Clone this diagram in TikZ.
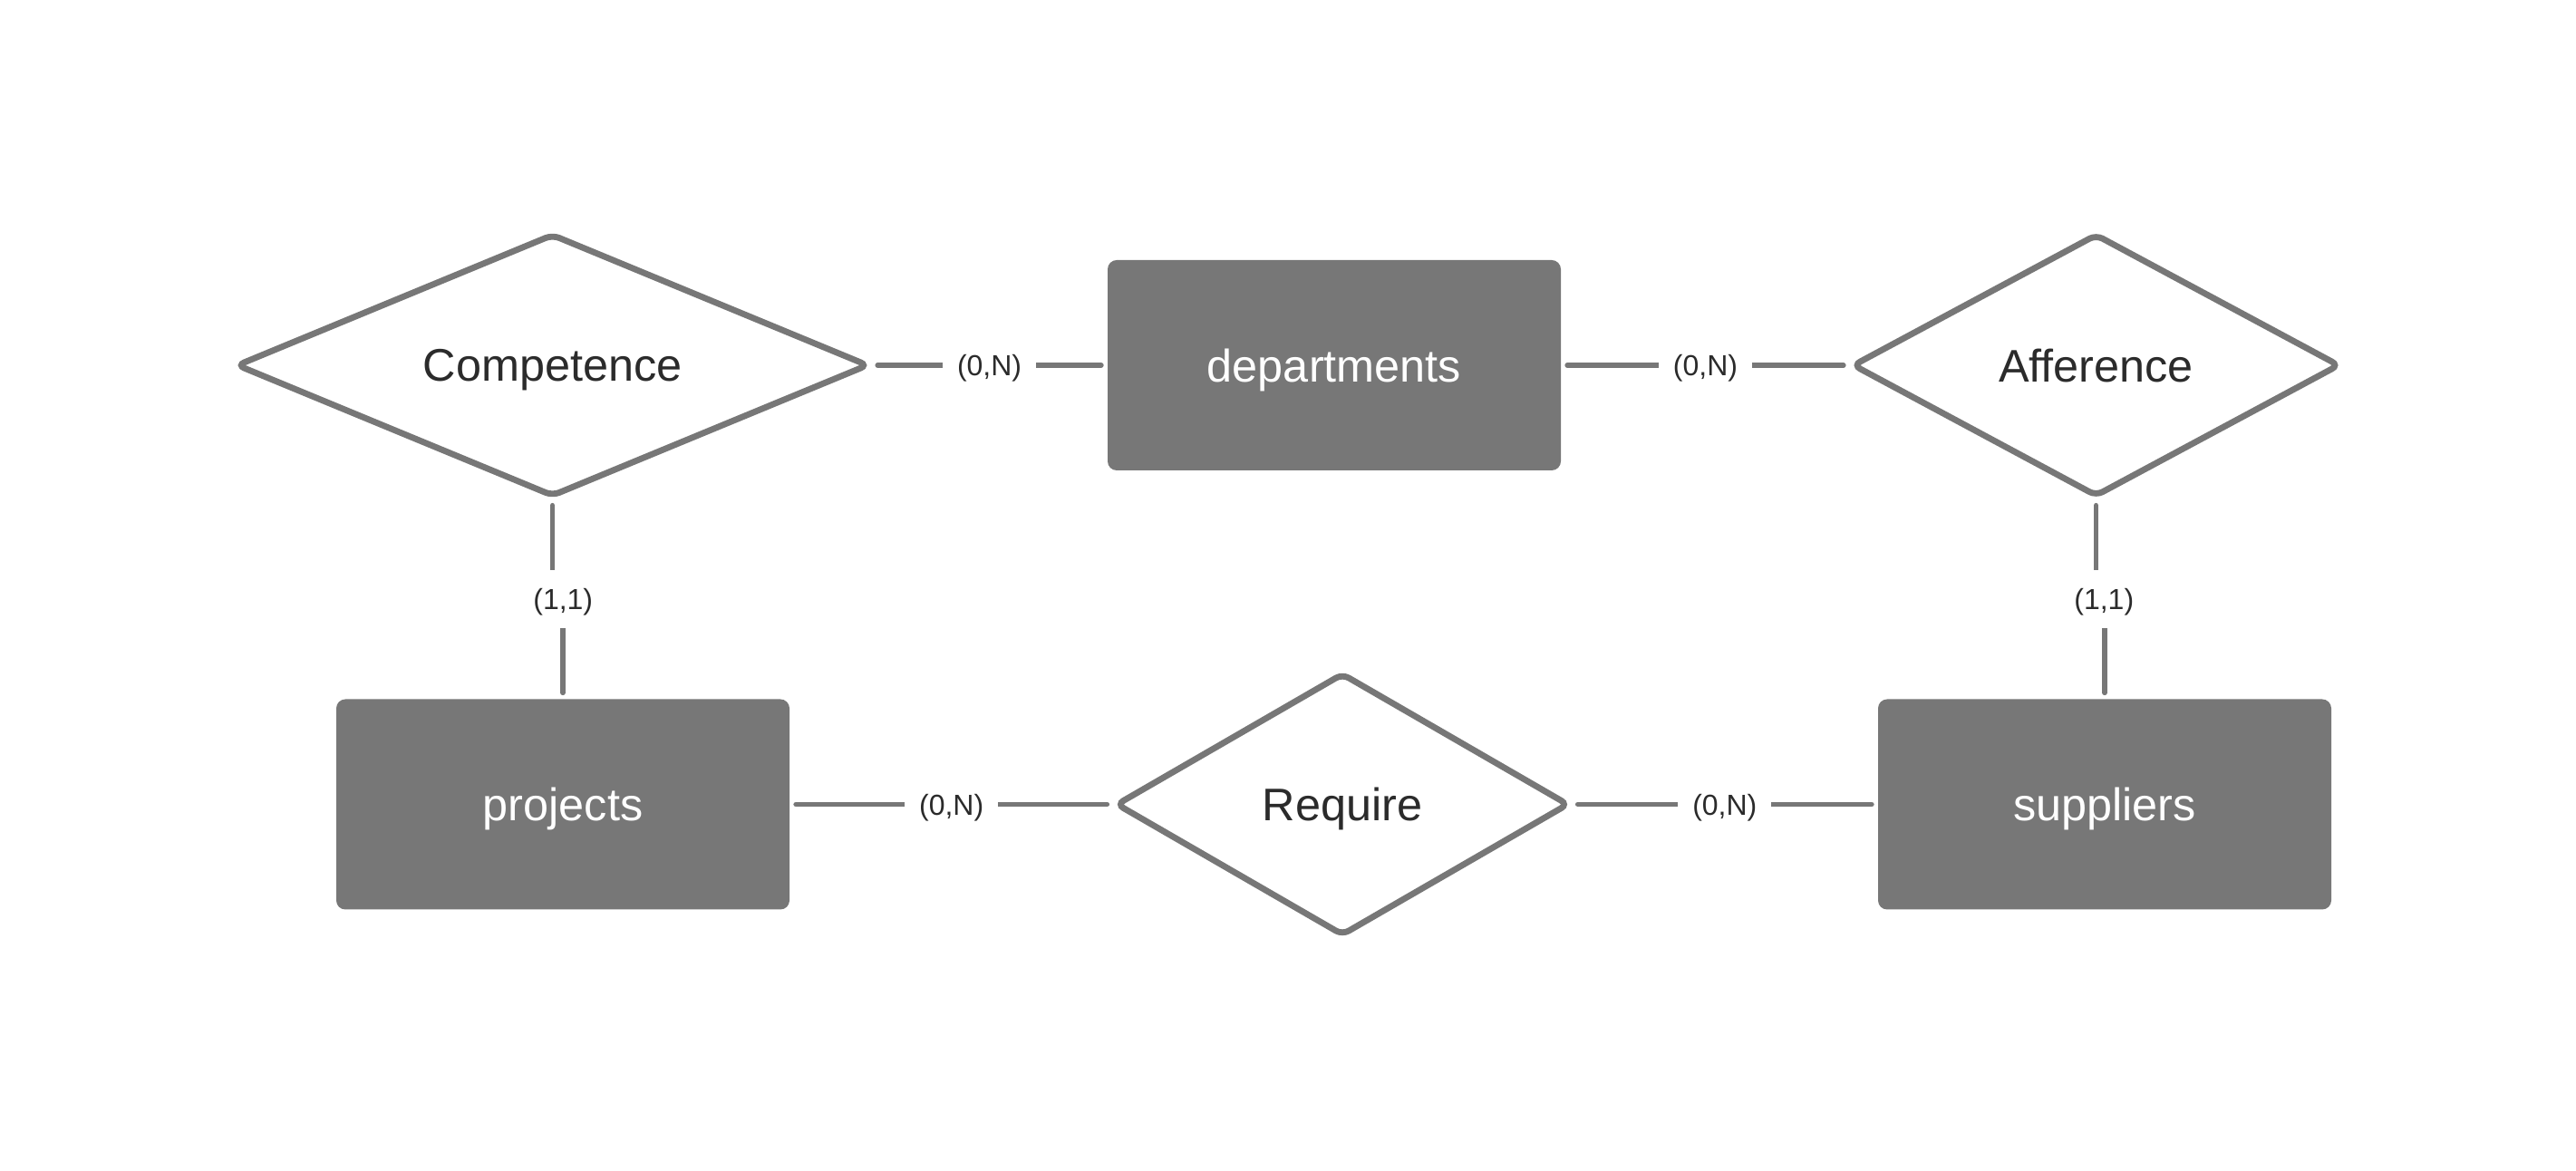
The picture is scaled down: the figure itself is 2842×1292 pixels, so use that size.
\documentclass[tikz,border=0pt]{standalone}
\usepackage{fontspec}
\setmainfont{Liberation Sans}
\usetikzlibrary{shapes.geometric,calc}
\definecolor{ergray}{HTML}{777777}
\definecolor{ertext}{HTML}{2B2B2B}
\tikzset{
  entity/.style={rectangle, fill=ergray, draw=none, rounded corners=2.5pt,
    minimum width=125pt, minimum height=58pt, text=white, inner sep=0pt,
    text depth=0pt, font=\fontsize{12.6}{15}\selectfont},
  relation/.style={diamond, draw=ergray, fill=white, line width=1.7pt,
    rounded corners=2pt, inner sep=0pt, text=ertext, text depth=0pt,
    font=\fontsize{12.6}{15}\selectfont},
  link/.style={draw=ergray, line width=1.45pt, line cap=round,
    shorten <=1.6pt, shorten >=1.6pt},
  card/.style={fill=white, text=ertext, inner xsep=4pt, inner ysep=5pt,
    text depth=0pt, font=\fontsize{8}{10}\selectfont},
}
\begin{document}
\begin{tikzpicture}[x=0.25pt, y=-0.25pt]
\useasboundingbox (0,0) rectangle (2842,1292);
% entities
\node[entity] (dep) at (1472,403) {departments};
\node[entity] (proj) at (621,887.5) {projects};
\node[entity] (sup) at (2322,887.5) {suppliers};
% relations
\node[relation, aspect=2.4, minimum width=174.5pt, minimum height=72.5pt] (comp) at (609.5,403) {Competence};
\node[relation, aspect=1.85, minimum width=134.5pt, minimum height=72.5pt] (aff) at (2312.5,403) {Afference};
\node[relation, aspect=1.72, minimum width=125pt, minimum height=72.5pt] (req) at (1481,887.5) {Require};
% connectors
\path[link] (comp.east) -- (dep.west) node[card, midway] {(0,N)};
\path[link] (dep.east) -- (aff.west) node[card, midway] {(0,N)};
\path[link] (proj.east) -- (req.west) node[card, midway] {(0,N)};
\path[link] (req.east) -- (sup.west) node[card, midway] {(0,N)};
% vertical connectors with elbow hidden behind label
\coordinate (c1) at ($(comp.south)!0.5!(proj.north)$);
\path[link] (comp.south) -- (comp.south |- c1) -- (proj.north |- c1) -- (proj.north);
\node[card] (l1) at ([xshift=1.5pt]c1) {(1,1)};
\coordinate (c2) at ($(aff.south)!0.5!(sup.north)$);
\path[link] (aff.south) -- (aff.south |- c2) -- (sup.north |- c2) -- (sup.north);
\node[card] (l2) at ([xshift=1pt]c2) {(1,1)};
\end{tikzpicture}
\end{document}
